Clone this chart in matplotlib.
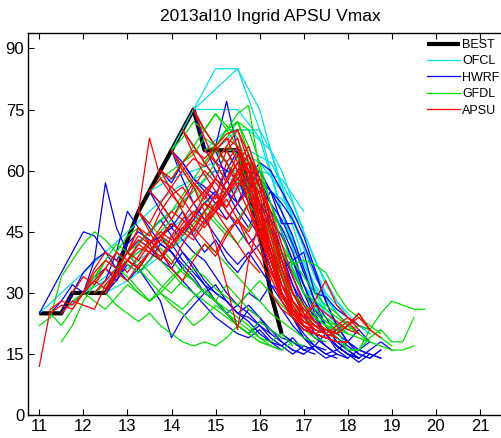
import numpy as np
import matplotlib
matplotlib.use("Agg")
import matplotlib.pyplot as plt

plt.rcParams['font.family'] = ['Liberation Sans', 'DejaVu Sans']

# Best track intensity (kt), 6-hourly from Sep 11 00Z
best_start = 11.0
best_vmax = [25, 25, 25, 30, 30, 30, 30, 35, 43, 50, 55, 60, 65, 70, 75,
             65, 65, 65, 65, 55, 45, 30, 20]

# Official forecasts, 12-hourly
ofcl_init = [11.0, 11.5, 12.0, 12.5, 13.0, 13.5, 14.0, 14.5, 14.5, 14.75,
             15.0, 15.25, 15.5, 15.75, 16.0]
ofcl_vmax = [
    [25, 30, 35, 40, 45, 50, 55, 58, 60, 57, 52],
    [25, 30, 34, 38, 42, 46, 50, 54, 56, 52, 47],
    [30, 33, 36, 40, 44, 48, 52, 56, 57, 53, 46],
    [30, 33, 37, 41, 45, 50, 55, 60, 58, 50],
    [40, 45, 50, 55, 60, 60, 52, 40, 30],
    [55, 58, 60, 62, 63, 60, 50, 36, 26],
    [65, 75, 85, 85, 70, 50, 32, 22],
    [75, 80, 85, 75, 55, 38, 26, 20],
    [75, 75, 75, 68, 50, 35, 25, 20],
    [65, 70, 70, 65, 48, 34, 25],
    [65, 70, 70, 60, 45, 32, 24, 20],
    [65, 65, 62, 52, 38, 28, 22],
    [65, 62, 55, 42, 30, 24, 20],
    [55, 50, 42, 32, 25, 20],
    [45, 40, 32, 25, 21],
]

# HWRF, 6-hourly
hwrf_init = [11.0, 11.25, 11.5, 12.0, 12.25, 12.5, 12.75, 13.0, 13.25, 13.5,
             13.75, 14.0, 14.25, 14.5, 14.75, 15.0, 15.25, 15.5, 15.75, 16.0,
             16.25, 16.5, 13.5, 14.0, 14.5, 15.0]
hwrf_vmax = [
    [25, 30, 35, 40, 45, 44, 40, 36, 33, 36, 40, 38, 42, 38, 35, 32, 30, 28, 25, 24, 22],
    [25, 28, 32, 30, 34, 36, 33, 38, 36, 40, 44, 46, 43, 40, 38, 34, 30, 27, 25, 22, 20],
    [25, 30, 35, 38, 40, 38, 42, 45, 43, 40, 36, 33, 30, 27, 24, 22, 20, 19, 21, 18, 16],
    [30, 38, 57, 46, 40, 43, 41, 38, 36, 40, 37, 33, 30, 28, 25, 27, 24, 21, 19, 18, 16],
    [30, 33, 40, 50, 46, 42, 44, 40, 36, 33, 30, 28, 25, 22, 20, 22, 19, 17, 15, 17, 16],
    [30, 33, 37, 35, 38, 42, 40, 36, 33, 30, 32, 28, 25, 23, 20, 18, 17, 19, 16, 15],
    [35, 38, 42, 45, 48, 44, 40, 36, 32, 28, 25, 22, 20, 23, 21, 18, 16, 15, 17, 16],
    [40, 36, 32, 28, 19, 24, 27, 30, 28, 25, 22, 26, 24, 20, 18, 16, 15],
    [50, 46, 42, 40, 37, 34, 30, 28, 25, 27, 30, 28, 32, 30, 26, 22, 19, 17, 15],
    [55, 52, 48, 44, 48, 52, 55, 50, 46, 42, 45, 48, 44, 38, 32, 26, 22, 18, 16, 14],
    [60, 57, 62, 58, 55, 52, 48, 52, 56, 60, 55, 50, 44, 36, 28, 22, 18, 16, 14],
    [65, 62, 58, 56, 54, 60, 65, 62, 58, 55, 52, 48, 42, 35, 28, 22, 18, 15, 14, 16],
    [70, 66, 62, 58, 55, 52, 58, 62, 60, 55, 50, 44, 36, 28, 22, 18, 16, 15],
    [75, 70, 66, 77, 65, 60, 56, 52, 45, 38, 30, 24, 20, 17, 15, 14],
    [65, 62, 60, 58, 55, 58, 52, 48, 42, 35, 28, 24, 20, 18, 16, 15, 14],
    [65, 62, 58, 52, 50, 55, 47, 47],
    [65, 60, 55, 50, 45, 40, 35, 30, 26, 22, 19, 17, 15, 14, 16],
    [65, 58, 52, 46, 40, 34, 28, 24, 20, 17, 15, 13, 15, 14],
    [55, 50, 44, 38, 32, 27, 23, 20, 17, 15, 14, 16, 18, 16],
    [45, 40, 36, 38, 40, 30, 29, 26, 24, 22, 21],
    [30, 26, 22, 19, 17, 15, 16, 18, 21, 18],
    [20, 18, 16, 17, 20, 16, 14, 16, 18],
    [55, 50, 46, 50, 44, 40, 43, 38, 35, 39, 42, 36, 30, 24, 19, 16, 14, 15],
    [65, 58, 52, 48, 44, 40, 37, 40, 36, 32, 28, 24, 20, 17, 15, 14],
    [75, 66, 60, 55, 50, 46, 52, 48, 40, 32, 25, 20, 17, 15, 14],
    [65, 58, 52, 48, 44, 50, 46, 40, 32, 25, 20, 17, 15, 14],
]

# GFDL, 6-hourly
gfdl_init = [11.0, 11.25, 11.5, 11.75, 12.0, 12.25, 12.5, 12.75, 13.0, 13.5,
             13.75, 14.0, 14.25, 14.5, 14.75, 15.0, 15.25, 15.5, 15.75,
             13.25, 14.0, 13.0]
gfdl_vmax = [
    [22, 24, 34, 38, 42, 45, 43, 40, 37, 35, 38, 41, 38, 35, 33, 30, 28, 32, 29, 26, 24],
    [25, 22, 26, 30, 33, 38, 36, 34, 31, 28, 30, 27, 25, 22, 24, 27, 25, 22, 20, 18, 17],
    [18, 22, 28, 32, 36, 40, 44, 46, 42, 38, 35, 32, 30, 28, 26, 24, 22, 20, 23, 21, 19],
    [28, 30, 34, 38, 42, 40, 36, 33, 30, 28, 26, 29, 31, 28, 25, 23, 21, 19, 18, 20, 17],
    [30, 28, 26, 29, 32, 30, 28, 31, 34, 36, 33, 30, 28, 26, 24, 22, 19, 17, 16, 18, 17],
    [30, 32, 35, 33, 30, 28, 30, 33, 36, 39, 42, 40, 37, 34, 31, 28, 25, 23, 21, 19, 18],
    [30, 27, 25, 23, 25, 22, 20, 18, 17, 18, 17, 19, 22, 20, 18, 17, 16],
    [35, 38, 40, 42, 45, 48, 52, 55, 58, 62, 66, 64, 56, 46, 38, 30, 26, 22, 20, 19, 18],
    [40, 42, 45, 48, 50, 54, 58, 62, 66, 70, 72, 64, 54, 44, 36, 30, 26, 24, 22, 21, 20],
    [55, 58, 60, 62, 66, 70, 74, 71, 68, 60, 50, 42, 34, 28, 25, 23, 21, 20],
    [60, 58, 62, 64, 68, 66, 70, 74, 76, 60, 48, 38, 30, 26, 24, 22, 21],
    [65, 68, 72, 70, 74, 70, 66, 60, 50, 40, 32, 27, 24, 22, 21, 20],
    [70, 66, 62, 65, 68, 72, 70, 62, 52, 42, 37, 38, 37, 35, 30, 26, 24, 22, 20],
    [75, 70, 66, 62, 58, 54, 50, 45, 40, 35, 30, 28, 26, 24, 22, 20, 18, 17, 16, 16, 17],
    [65, 66, 70, 72, 66, 58, 48, 38, 30, 27, 25, 23, 22, 21, 22, 21, 25, 28, 27, 26, 26],
    [65, 62, 58, 55, 48, 40, 34, 30, 27, 25, 23, 21, 16, 16, 19, 21, 18, 18, 24],
    [65, 60, 54, 48, 42, 36, 30, 26, 24, 22, 19, 16, 16, 21, 19, 17],
    [65, 62, 60, 52, 45, 36, 30, 26, 24, 22, 20, 19, 18],
    [55, 50, 45, 40, 38, 34, 30, 27, 25, 22, 20],
    [50, 47, 44, 41, 44, 47, 50, 47, 44, 48, 52, 48, 42, 35, 28, 24, 21, 20, 19],
    [65, 60, 56, 52, 48, 45, 42, 46, 50, 44, 36, 30, 26, 24, 22, 20],
    [40, 38, 35, 32, 30, 33, 36, 34, 31, 29, 27, 30, 33, 30, 27, 24, 21, 19, 18],
]

# APSU, 6-hourly
apsu_init = [11.0, 11.25, 11.5, 11.75, 12.0, 12.25, 12.5, 12.75, 13.0, 13.25,
             13.5, 13.75, 14.0, 14.25, 14.5, 14.75, 15.0, 15.25, 15.5, 15.75,
             16.0, 16.25, 13.0, 13.25, 13.5, 13.75, 14.0, 14.25, 14.5, 12.5,
             12.0, 13.25]
apsu_vmax = [
    [12, 26, 28, 27, 30, 33, 36, 34, 38, 41, 40, 44, 47, 45, 49, 52, 50, 46, 42, 38, 35],
    [25, 27, 26, 30, 33, 31, 35, 38, 36, 40, 43, 41, 45, 48, 46, 50, 53, 48, 42, 38, 33],
    [25, 28, 27, 26, 32, 35, 33, 37, 40, 38, 42, 45, 43, 47, 50, 48, 52, 55, 48, 40, 32],
    [30, 34, 32, 36, 40, 38, 42, 40, 44, 47, 45, 49, 52, 50, 54, 57, 55, 58, 50, 40, 30],
    [30, 35, 38, 36, 40, 43, 41, 39, 42, 46, 44, 48, 51, 55, 58, 56, 45, 36, 28, 24, 21],
    [30, 33, 36, 40, 38, 42, 45, 43, 47, 50, 48, 52, 55, 60, 62, 52, 42, 32, 26, 22, 20],
    [30, 34, 38, 36, 40, 44, 42, 46, 49, 47, 51, 58, 62, 55, 46, 38, 30, 25, 22, 21, 20],
    [35, 38, 36, 40, 43, 47, 45, 49, 52, 50, 58, 64, 60, 50, 40, 30, 25, 22, 20, 21, 19],
    [40, 44, 42, 46, 50, 48, 52, 55, 53, 62, 66, 58, 48, 38, 30, 25, 22, 20, 19, 18, 18],
    [50, 68, 58, 54, 56, 52, 55, 58, 65, 68, 58, 48, 38, 30, 25, 22, 20, 19, 18],
    [55, 58, 56, 60, 63, 61, 65, 68, 62, 52, 42, 34, 28, 24, 22, 20, 19],
    [60, 58, 62, 65, 63, 66, 69, 70, 62, 50, 40, 32, 26, 22, 20, 19],
    [65, 60, 56, 50, 42, 32, 21, 38, 48, 40, 30, 24, 21, 20],
    [70, 66, 62, 58, 55, 60, 64, 58, 48, 38, 30, 25, 22, 20, 19],
    [75, 70, 66, 62, 56, 50, 44, 38, 32, 28, 25, 23, 21, 20, 22, 24, 21],
    [65, 62, 66, 70, 64, 56, 46, 36, 30, 26, 23, 21, 20, 22, 25, 21, 19],
    [65, 68, 66, 60, 50, 40, 32, 26, 24, 28, 33, 27, 24, 22],
    [65, 60, 52, 44, 36, 29, 25, 23, 22, 21, 20, 22, 25, 21],
    [65, 58, 48, 38, 30, 25, 22, 20, 19, 21, 23, 20],
    [55, 46, 38, 30, 26, 23, 21, 20, 22, 24, 21],
    [45, 36, 30, 26, 24, 27, 25, 23, 21, 20],
    [30, 26, 24, 22, 20, 19, 18, 18],
    [40, 46, 44, 50, 54, 51, 56, 60, 57, 54, 58, 62, 56, 46, 36, 28, 24, 21, 20],
    [50, 47, 52, 56, 53, 49, 54, 58, 55, 60, 57, 50, 40, 30, 24, 21, 20],
    [55, 52, 48, 53, 57, 54, 50, 55, 59, 62, 52, 40, 30, 24, 21, 20],
    [60, 55, 50, 46, 50, 54, 51, 56, 60, 54, 44, 34, 26, 22, 20],
    [65, 61, 57, 53, 58, 55, 60, 64, 56, 46, 36, 28, 24, 21],
    [70, 64, 59, 55, 51, 56, 60, 52, 42, 34, 27, 23, 21],
    [75, 68, 62, 57, 62, 66, 58, 48, 38, 30, 25, 22, 20],
    [30, 35, 40, 46, 42, 38, 44, 48, 45, 50, 54, 50, 47, 52, 55, 50, 42, 34, 27, 23, 21],
    [30, 36, 40, 38, 35, 39, 43, 40, 37, 42, 46, 43, 40, 45, 48, 44, 40, 35, 30, 26, 23],
    [50, 45, 40, 36, 33, 38, 42, 39, 44, 48, 45, 50, 46, 38, 30, 25, 22, 20],
]

models = [
    ('OFCL', ofcl_init, ofcl_vmax, 0.5, '#00e0e0'),
    ('HWRF', hwrf_init, hwrf_vmax, 0.25, '#0000ff'),
    ('GFDL', gfdl_init, gfdl_vmax, 0.25, '#00dd00'),
    ('APSU', apsu_init, apsu_vmax, 0.25, '#ff0000'),
]

fig = plt.figure(figsize=(5.02, 4.38), dpi=100)
ax = fig.add_axes([0.0564, 0.052, 0.9655, 0.872])

bt = best_start + 0.25 * np.arange(len(best_vmax))
ax.plot(bt, best_vmax, color='k', lw=3.0, label='BEST', zorder=2,
        solid_capstyle='butt')

z = 3
for name, inits, runs, step, color in models:
    for i, (t0, vals) in enumerate(zip(inits, runs)):
        t = t0 + step * np.arange(len(vals))
        ax.plot(t, vals, color=color, lw=0.9, zorder=z,
                label=name if i == 0 else None)
    z += 1

ax.set_xlim(10.75, 21.75)
ax.set_ylim(0, 93.7)
ax.set_xticks(range(11, 22))
ax.set_yticks(range(0, 91, 15))
ax.tick_params(direction='in', length=4, width=0.8, labelsize=12,
               top=True, right=True, pad=3)
for s in ax.spines.values():
    s.set_linewidth(1.0)

ax.set_title('2013al10 Ingrid APSU Vmax', fontsize=12.5, pad=9)

leg = ax.legend(loc='upper left', bbox_to_anchor=(0.822, 0.985),
                frameon=False, fontsize=9, handlelength=2.65,
                handletextpad=0.2, labelspacing=0.35, borderpad=0,
                borderaxespad=0)

fig.savefig('out.png', dpi=100)
